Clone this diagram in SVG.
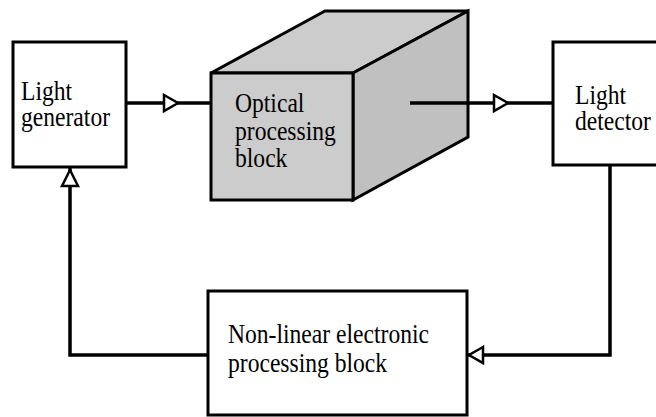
<svg xmlns="http://www.w3.org/2000/svg" width="656" height="417" viewBox="0 0 656 417">
<style>
.box{fill:#ffffff;stroke:#000;stroke-width:3}
.face{stroke:#000;stroke-width:3;stroke-linejoin:miter}
.wire{fill:none;stroke:#000;stroke-width:3.5}
.head{fill:#ffffff;stroke:#000;stroke-width:2.5;stroke-linejoin:miter}
.lbl{font-family:"Liberation Serif","Times New Roman",serif;font-size:26.5px;fill:#000}
</style>
<rect x="0" y="0" width="656" height="417" fill="#ffffff"/>
<g id="connectors">
<path class="wire" d="M126,103 H211"/>
<polygon class="head" points="164,95 178,103 164,111"/>
<path class="wire" d="M410,103 H553"/>
<polygon class="head" points="494,95 508,103 494,111"/>
<path class="wire" d="M610,165 V355 H467"/>
<polygon class="head" points="483,347 469,355 483,363"/>
<path class="wire" d="M208,355 H70 V168"/>
<polygon class="head" points="62,186 70,170 78,186"/>
</g>
<g id="light-generator">
<rect class="box" x="13" y="42" width="113" height="125"/>
<text class="lbl" transform="matrix(0.89 0 0 1 21 100)">Light</text>
<text class="lbl" transform="matrix(0.89 0 0 1 21 126)">generator</text>
</g>
<g id="optical-processing-block">
<polygon class="face" fill="#cccccc" points="211,73 325,11 468,11 353,73"/>
<polygon class="face" fill="#c0c0c0" points="353,73 468,11 468,137 353,200"/>
<rect class="face" fill="#cccccc" x="211" y="73" width="142" height="127"/>
<path class="wire" d="M410,103 H468"/>
<text class="lbl" transform="matrix(0.89 0 0 1 235 112)">Optical</text>
<text class="lbl" transform="matrix(0.89 0 0 1 235 140)">processing</text>
<text class="lbl" transform="matrix(0.89 0 0 1 235 167)">block</text>
</g>
<g id="light-detector">
<rect class="box" x="553" y="42" width="120" height="123"/>
<text class="lbl" transform="matrix(0.89 0 0 1 575 104)">Light</text>
<text class="lbl" transform="matrix(0.89 0 0 1 575 130)">detector</text>
</g>
<g id="nonlinear-electronic-block">
<rect class="box" x="208" y="291" width="259" height="124"/>
<text class="lbl" transform="matrix(0.89 0 0 1 228 343)">Non-linear electronic</text>
<text class="lbl" transform="matrix(0.89 0 0 1 228 372)">processing block</text>
</g>
</svg>
